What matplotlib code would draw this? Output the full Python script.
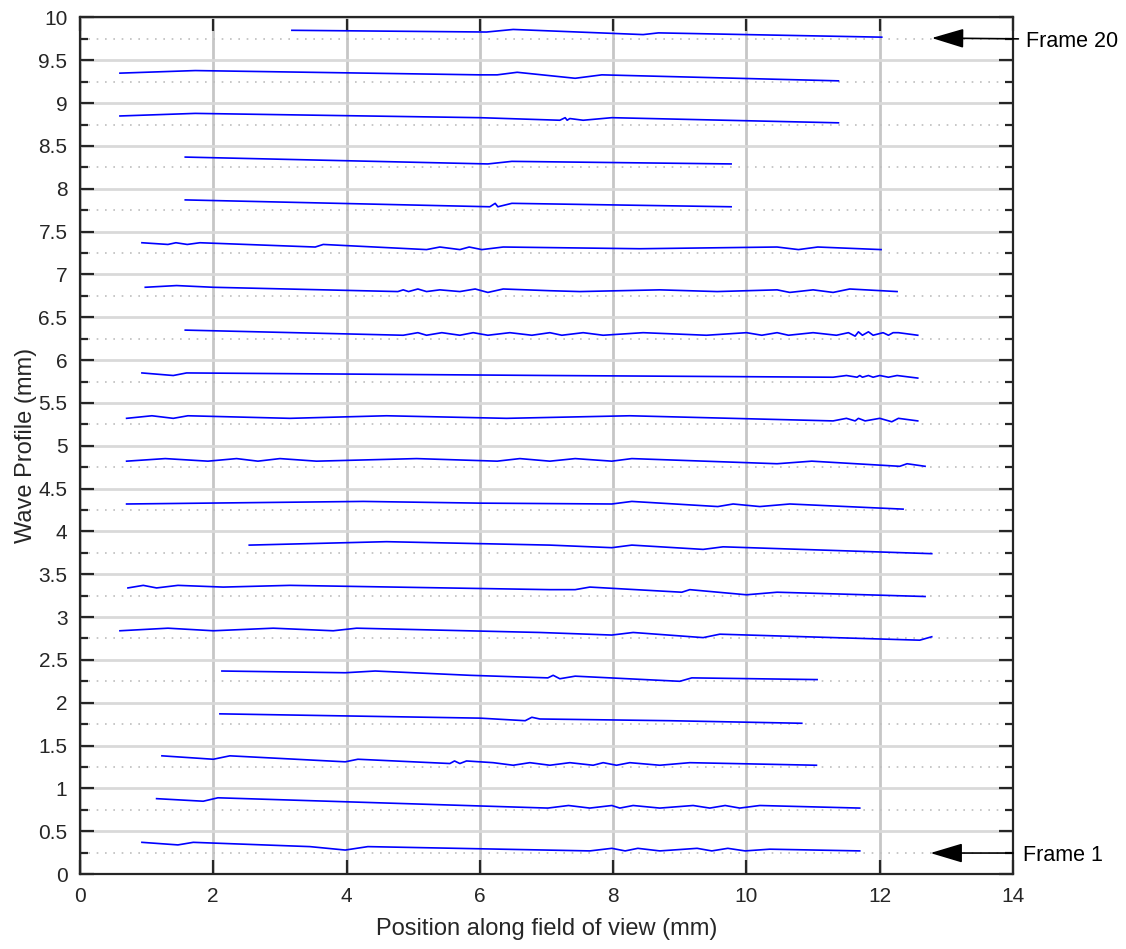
import matplotlib
matplotlib.use('Agg')
import matplotlib.pyplot as plt
from matplotlib.ticker import MultipleLocator, FormatStrFormatter

plt.rcParams['font.family'] = ['Liberation Sans', 'DejaVu Sans']

# Wave profiles, one per frame (x in mm, y in mm, already offset per frame)
f01_x = [0.93, 1.47, 1.70, 3.45, 3.98, 4.32, 7.65, 7.98, 8.18, 8.37, 8.70, 9.26, 9.48, 9.72, 9.98, 10.35, 11.70]
f01_y = [0.37, 0.34, 0.37, 0.32, 0.28, 0.32, 0.27, 0.30, 0.27, 0.30, 0.27, 0.30, 0.27, 0.30, 0.27, 0.29, 0.27]
f02_x = [1.15, 1.85, 2.07, 7.02, 7.33, 7.65, 7.98, 8.10, 8.30, 8.70, 9.20, 9.45, 9.68, 9.90, 10.20, 11.70]
f02_y = [0.88, 0.85, 0.89, 0.77, 0.80, 0.77, 0.80, 0.77, 0.80, 0.77, 0.80, 0.77, 0.80, 0.77, 0.80, 0.77]
f03_x = [1.23, 2.00, 2.25, 3.98, 4.17, 5.55, 5.62, 5.70, 5.80, 6.20, 6.50, 6.75, 7.05, 7.35, 7.70, 7.85, 8.05, 8.25, 8.70, 9.15, 11.05]
f03_y = [1.38, 1.34, 1.38, 1.31, 1.34, 1.29, 1.32, 1.29, 1.32, 1.30, 1.27, 1.30, 1.27, 1.30, 1.27, 1.30, 1.27, 1.30, 1.27, 1.30, 1.27]
f04_x = [2.10, 6.00, 6.68, 6.78, 6.90, 8.85, 10.83]
f04_y = [1.87, 1.82, 1.79, 1.83, 1.81, 1.79, 1.76]
f05_x = [2.13, 3.98, 4.43, 5.85, 7.02, 7.10, 7.20, 7.43, 9.00, 9.18, 11.06]
f05_y = [2.37, 2.35, 2.37, 2.32, 2.29, 2.32, 2.28, 2.31, 2.25, 2.29, 2.27]
f06_x = [0.60, 1.32, 2.00, 2.90, 3.80, 4.15, 6.90, 7.98, 8.30, 9.35, 9.60, 12.60, 12.78]
f06_y = [2.84, 2.87, 2.84, 2.87, 2.84, 2.87, 2.82, 2.79, 2.82, 2.76, 2.80, 2.73, 2.77]
f07_x = [0.72, 0.95, 1.15, 1.47, 2.15, 3.15, 7.05, 7.43, 7.65, 9.03, 9.15, 10.00, 10.46, 12.68]
f07_y = [3.34, 3.37, 3.34, 3.37, 3.35, 3.37, 3.32, 3.32, 3.35, 3.29, 3.32, 3.26, 3.29, 3.24]
f08_x = [2.54, 4.60, 7.05, 7.98, 8.28, 9.35, 9.65, 12.78]
f08_y = [3.84, 3.88, 3.84, 3.81, 3.84, 3.79, 3.82, 3.74]
f09_x = [0.70, 4.25, 6.00, 7.98, 8.28, 9.57, 9.80, 10.20, 10.65, 12.35]
f09_y = [4.32, 4.35, 4.33, 4.32, 4.35, 4.29, 4.32, 4.29, 4.32, 4.26]
f10_x = [0.70, 1.28, 1.92, 2.35, 2.67, 3.00, 3.55, 5.05, 6.26, 6.60, 7.05, 7.43, 7.98, 8.28, 10.46, 10.98, 12.30, 12.41, 12.68]
f10_y = [4.82, 4.85, 4.82, 4.85, 4.82, 4.85, 4.82, 4.85, 4.82, 4.85, 4.82, 4.85, 4.82, 4.85, 4.79, 4.82, 4.76, 4.79, 4.76]
f11_x = [0.70, 1.08, 1.40, 1.62, 3.15, 4.60, 6.40, 8.25, 11.30, 11.50, 11.63, 11.68, 11.78, 12.00, 12.18, 12.28, 12.57]
f11_y = [5.32, 5.35, 5.32, 5.35, 5.32, 5.35, 5.32, 5.35, 5.29, 5.32, 5.29, 5.32, 5.29, 5.32, 5.28, 5.32, 5.29]
f12_x = [0.93, 1.40, 1.60, 7.05, 11.30, 11.50, 11.66, 11.70, 11.74, 11.83, 11.90, 12.00, 12.13, 12.26, 12.57]
f12_y = [5.85, 5.82, 5.85, 5.82, 5.80, 5.82, 5.80, 5.82, 5.80, 5.82, 5.80, 5.82, 5.80, 5.82, 5.79]
f13_x = [1.58, 4.85, 5.07, 5.20, 5.43, 5.70, 5.90, 6.12, 6.45, 6.78, 7.05, 7.23, 7.55, 7.85, 8.45, 9.40, 10.00,
         10.23, 10.46, 10.63, 11.00, 11.35, 11.53, 11.63, 11.68, 11.74, 11.83, 11.90, 12.05, 12.13, 12.20, 12.28, 12.57]
f13_y = [6.35, 6.29, 6.32, 6.29, 6.32, 6.29, 6.32, 6.29, 6.32, 6.29, 6.32, 6.29, 6.32, 6.29, 6.32, 6.29, 6.32,
         6.29, 6.32, 6.29, 6.32, 6.29, 6.32, 6.28, 6.33, 6.29, 6.33, 6.29, 6.32, 6.29, 6.32, 6.32, 6.29]
f14_x = [0.98, 1.45, 2.00, 4.77, 4.85, 4.93, 5.07, 5.20, 5.40, 5.70, 5.93, 6.12, 6.35, 7.05, 7.50, 8.70,
         9.56, 10.46, 10.65, 11.00, 11.30, 11.55, 12.26]
f14_y = [6.85, 6.87, 6.85, 6.80, 6.82, 6.80, 6.83, 6.80, 6.82, 6.80, 6.83, 6.79, 6.83, 6.81, 6.80, 6.82,
         6.80, 6.82, 6.79, 6.82, 6.79, 6.83, 6.80]
f15_x = [0.93, 1.32, 1.44, 1.61, 1.80, 3.53, 3.65, 5.20, 5.40, 5.70, 5.84, 6.03, 6.35, 8.40, 10.46, 10.78, 11.07, 12.02]
f15_y = [7.37, 7.35, 7.37, 7.35, 7.37, 7.32, 7.35, 7.29, 7.32, 7.29, 7.32, 7.29, 7.32, 7.30, 7.32, 7.29, 7.32, 7.29]
f16_x = [1.58, 6.15, 6.23, 6.27, 6.48, 9.77]
f16_y = [7.87, 7.79, 7.83, 7.79, 7.83, 7.79]
f17_x = [1.58, 6.12, 6.48, 9.77]
f17_y = [8.37, 8.29, 8.32, 8.29]
f18_x = [0.60, 1.73, 6.00, 7.20, 7.28, 7.31, 7.35, 7.55, 7.98, 11.38]
f18_y = [8.85, 8.88, 8.83, 8.80, 8.83, 8.80, 8.82, 8.80, 8.83, 8.77]
f19_x = [0.60, 1.73, 6.00, 6.26, 6.56, 7.43, 7.83, 11.38]
f19_y = [9.35, 9.38, 9.33, 9.33, 9.36, 9.29, 9.33, 9.26]
f20_x = [3.18, 6.10, 6.50, 8.45, 8.68, 10.00, 12.03]
f20_y = [9.85, 9.83, 9.86, 9.80, 9.82, 9.80, 9.77]

profiles = [(f01_x, f01_y), (f02_x, f02_y), (f03_x, f03_y), (f04_x, f04_y), (f05_x, f05_y),
            (f06_x, f06_y), (f07_x, f07_y), (f08_x, f08_y), (f09_x, f09_y), (f10_x, f10_y),
            (f11_x, f11_y), (f12_x, f12_y), (f13_x, f13_y), (f14_x, f14_y), (f15_x, f15_y),
            (f16_x, f16_y), (f17_x, f17_y), (f18_x, f18_y), (f19_x, f19_y), (f20_x, f20_y)]

fig = plt.figure(figsize=(11.26, 9.49), dpi=100)
ax = fig.add_axes([0.071, 0.079, 0.8287, 0.9026])

for xs, ys in profiles:
    ax.plot(xs, ys, color='#0000ff', lw=1.2)

ax.set_xlim(0, 14)
ax.set_ylim(0, 10)
ax.xaxis.set_major_locator(MultipleLocator(2))
ax.yaxis.set_major_locator(MultipleLocator(0.5))
ax.yaxis.set_minor_locator(MultipleLocator(0.25))
ax.yaxis.set_major_formatter(FormatStrFormatter('%g'))

# grid, matlab style
ax.set_axisbelow(True)
ax.xaxis.grid(True, which='major', color='#c6c6c6', lw=2)
ax.yaxis.grid(True, which='major', color='#d9d9d9', lw=2)
ax.yaxis.grid(True, which='minor', color='#bdbdbd', lw=1.2, linestyle=(0, (1, 4)))

for s in ax.spines.values():
    s.set_color('#262626')
    s.set_linewidth(1.6)
ax.tick_params(which='both', direction='in', top=True, right=True, colors='#262626',
               labelsize=15, width=1.6)
ax.tick_params(which='major', length=10, pad=9)
ax.tick_params(which='minor', length=6)
ax.tick_params(axis='x', which='minor', top=False, bottom=False)

ax.set_xlabel('Position along field of view (mm)', fontsize=17, color='#262626', labelpad=9)
ax.set_ylabel('Wave Profile (mm)', fontsize=17, color='#262626', labelpad=1)

# frame labels with arrows
arrow = dict(arrowstyle='-|>,head_length=2.0,head_width=0.6', color='black', lw=1.2,
             shrinkA=0, shrinkB=0)
ax.annotate('', xy=(12.78, 9.76), xytext=(14.08, 9.75), arrowprops=arrow, annotation_clip=False)
ax.text(14.2, 9.72, 'Frame 20', fontsize=15.5, va='center', clip_on=False)
ax.annotate('', xy=(12.76, 0.245), xytext=(14.0, 0.245), arrowprops=arrow, annotation_clip=False)
ax.text(14.15, 0.22, 'Frame 1', fontsize=15.5, va='center', clip_on=False)

fig.savefig('out.png', dpi=100)
